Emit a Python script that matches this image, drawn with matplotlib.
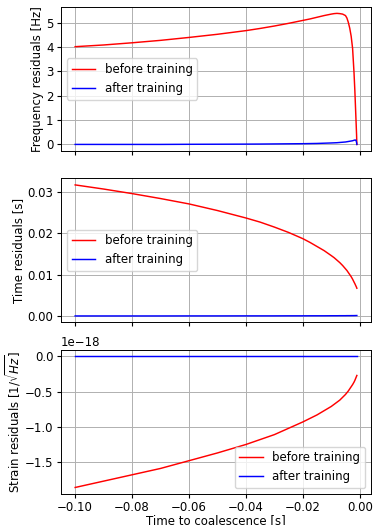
import matplotlib
matplotlib.use("Agg")
import numpy as np
import matplotlib.pyplot as plt

plt.rcParams['font.size'] = 8.5
plt.rcParams['xtick.major.size'] = 3
plt.rcParams['ytick.major.size'] = 3
plt.rcParams['xtick.major.pad'] = 2
plt.rcParams['ytick.major.pad'] = 2.5
plt.rcParams['grid.linewidth'] = 0.7
plt.rcParams['axes.linewidth'] = 0.7

# time to coalescence [s]
t = [-0.1, -0.09, -0.08, -0.07, -0.06, -0.05, -0.04, -0.035, -0.03, -0.025,
     -0.02, -0.0175, -0.015, -0.0125, -0.01, -0.009, -0.008, -0.007, -0.006,
     -0.005, -0.0045, -0.004, -0.0035, -0.003, -0.0025, -0.002, -0.0017,
     -0.0015, -0.0013, -0.0011, -0.001]

# frequency residuals [Hz]
freq_before = [4.02, 4.09, 4.18, 4.28, 4.40, 4.53, 4.68, 4.77, 4.87, 4.98,
               5.10, 5.16, 5.23, 5.30, 5.36, 5.38, 5.39, 5.38, 5.36,
               5.30, 5.20, 5.02, 4.78, 4.45, 3.95, 2.95, 2.20,
               1.60, 1.00, 0.40, 0.0]
freq_after = [0.0, 0.0, 0.0, 0.0, 0.005, 0.008, 0.012, 0.015, 0.02, 0.025,
              0.03, 0.035, 0.04, 0.05, 0.06, 0.065, 0.07, 0.08, 0.09,
              0.10, 0.11, 0.12, 0.13, 0.14, 0.15, 0.17, 0.18,
              0.18, 0.17, 0.08, 0.0]

# time residuals [s]
time_before = [0.0317, 0.0307, 0.0296, 0.0284, 0.0271, 0.0255, 0.0237, 0.0227,
               0.0215, 0.0202, 0.0187, 0.0178, 0.0168, 0.0158, 0.0146, 0.0141,
               0.0135, 0.0129, 0.0122, 0.0114, 0.0110, 0.0105, 0.0100, 0.0095,
               0.0089, 0.0082, 0.0078, 0.0075, 0.0072, 0.0069, 0.0067]
time_after = [0.0, 0.0, 0.0, 0.0, 0.00001, 0.00001, 0.00002, 0.00002,
              0.00002, 0.00003, 0.00003, 0.00004, 0.00004, 0.00004, 0.00005,
              0.00005, 0.00005, 0.00006, 0.00006, 0.00006, 0.00007, 0.00007,
              0.00007, 0.00008, 0.00008, 0.00008, 0.00009, 0.00009, 0.0001,
              0.0001, 0.0001]

# strain residuals [1e-18 / sqrt(Hz)]
strain_before = [-1.86, -1.77, -1.68, -1.59, -1.48, -1.37, -1.25, -1.18,
                 -1.11, -1.02, -0.93, -0.88, -0.83, -0.77, -0.71, -0.68,
                 -0.65, -0.62, -0.58, -0.54, -0.515, -0.49, -0.46, -0.43,
                 -0.40, -0.365, -0.34, -0.32, -0.30, -0.28, -0.27]
strain_after = [0.0] * len(t)

fig, axes = plt.subplots(3, 1, sharex=True, figsize=(3.84, 5.25), dpi=100)
fig.subplots_adjust(left=0.159, right=0.966, top=0.987, bottom=0.059,
                    hspace=0.19)

lw = 1.05

ax = axes[0]
ax.plot(t, freq_before, color='red', lw=lw, label='before training')
ax.plot(t, freq_after, color='blue', lw=lw, label='after training')
ax.set_ylabel('Frequency residuals [Hz]', labelpad=1.5)
ax.legend(loc='center left')
ax.grid(True)

ax = axes[1]
ax.plot(t, time_before, color='red', lw=lw, label='before training')
ax.plot(t, time_after, color='blue', lw=lw, label='after training')
ax.set_ylabel('Time residuals [s]', labelpad=1.5)
ax.legend(loc='center left')
ax.grid(True)

ax = axes[2]
ax.plot(t, np.array(strain_before) * 1e-18, color='red', lw=lw,
        label='before training')
ax.plot(t, np.array(strain_after) * 1e-18, color='blue', lw=lw,
        label='after training')
ax.set_ylabel(r'Strain residuals [$1/\sqrt{Hz}$]', labelpad=1.5)
ax.set_xlabel('Time to coalescence [s]', labelpad=0)
ax.legend(loc='lower right')
ax.grid(True)

fig.savefig('out.png', dpi=100)
